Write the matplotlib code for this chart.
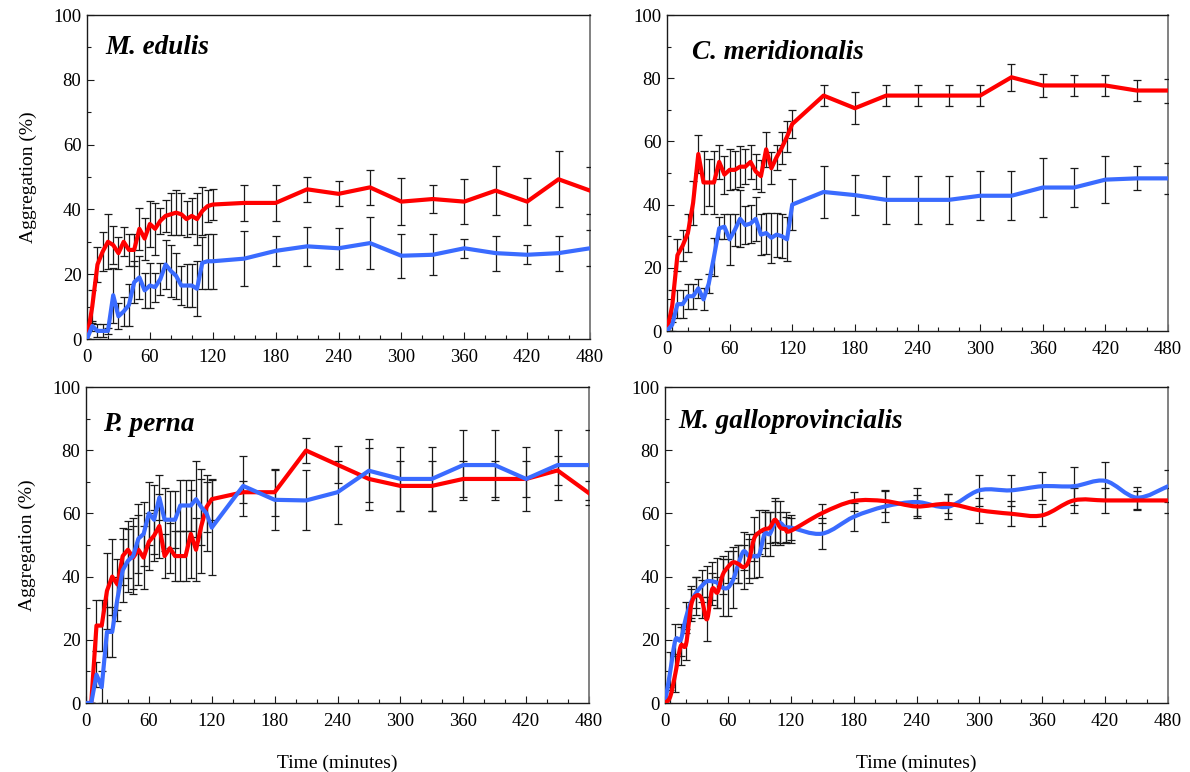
"""Four-panel aggregation time course (red vs blue treatment) per mussel species."""

import matplotlib

matplotlib.use("Agg")
import matplotlib.pyplot as plt  # noqa: E402
import numpy as np  # noqa: E402
from matplotlib.patches import PathPatch  # noqa: E402
from matplotlib.path import Path  # noqa: E402
from matplotlib.ticker import MultipleLocator  # noqa: E402

# --------------------------------------------------------------------------------------
# Data
# --------------------------------------------------------------------------------------
TIME = [0, 5, 10, 15, 20, 25, 30, 35, 40, 45, 50, 55, 60, 65, 70, 75, 80, 85, 90,
        95, 100, 105, 110, 115, 120, 150, 180, 210, 240, 270, 300, 330, 360, 390,
        420, 450, 480]

SPECIES = ["M. edulis", "C. meridionalis", "P. perna", "M. galloprovincialis"]

EDULIS_RED = [0, 10, 23, 27, 30, 29, 26.5, 30, 27.5, 27.5, 34, 31, 35.5, 34, 36.5,
              38, 38.5, 39, 38.5, 37, 38, 37, 39.5, 41, 41.5,
              42, 42, 46.2, 44.8, 46.8, 42.4, 43.2, 42.4, 45.8, 42.4, 49.3, 45.8]
EDULIS_RED_ERR = [0, 5, 5.5, 6, 8.5, 6, 5, 4.5, 5, 5, 6.5, 6.5, 7, 8, 4, 5, 6.5, 7,
                  6.5, 5.5, 5.5, 8, 7.5, 5, 4.8,
                  5.5, 5.5, 3.9, 3.9, 5.4, 7.3, 4.2, 7, 7.5, 7.3, 8.6, 7.2]
EDULIS_BLUE = [0, 4, 2.5, 2.5, 2.5, 13.5, 7, 8.5, 10.5, 17.5, 19, 15, 16.5, 16, 18.5,
               23, 21, 19.5, 16.5, 16.5, 16.5, 15.5, 23.5, 24, 24,
               24.8, 27.2, 28.6, 28, 29.6, 25.7, 26, 28, 26.5, 26, 26.5, 28]
EDULIS_BLUE_ERR = [0, 1.5, 2, 2, 1, 8.5, 4, 4.5, 6.5, 6.5, 6.5, 5.5, 7, 4.5, 5,
                   7.5, 8, 7, 6, 6.5, 6.5, 8.5, 8, 8.5, 8.5,
                   8.4, 4.6, 6.1, 6.4, 8, 6.8, 6.4, 2.9, 5.4, 2.9, 5.4, 5.6]

MERID_RED = [0, 8, 24, 27, 31, 40.5, 56, 47, 47, 47, 53.5, 49.5, 51, 51, 52, 52,
             53.5, 50.5, 49, 57.5, 51.5, 55, 58, 61.5, 65.5,
             74.5, 70.5, 74.5, 74.5, 74.5, 74.5, 80.3, 77.7, 77.7, 77.7, 76.1, 76.1]
MERID_RED_ERR = [0, 5, 5, 5, 6, 7, 6, 10, 7.5, 10, 5.5, 6, 6.5, 6, 6.5, 5.5, 5.5,
                 5.5, 5, 5.5, 5, 4, 5, 5, 4.5,
                 3.3, 5, 3.2, 3.2, 3.2, 3.2, 4.2, 3.7, 3.3, 3.3, 3.4, 3.8]
MERID_BLUE = [0, 2, 8.5, 8.5, 11, 11, 13.5, 10, 15, 23.5, 32.5, 33, 29, 32, 35.5,
              33.5, 34, 35.5, 30.5, 31, 29.5, 30.5, 30, 29, 40,
              44, 43, 41.5, 41.5, 41.5, 42.8, 42.8, 45.4, 45.4, 47.9, 48.3, 48.3]
MERID_BLUE_ERR = [0, 2, 4.5, 4.5, 4, 4, 3, 3.5, 3, 6, 3.5, 4, 8, 5, 9, 6, 6, 7,
                  6.5, 6.5, 8, 7, 7, 7, 8,
                  8.3, 6.3, 7.5, 7.5, 7.5, 7.7, 7.7, 9.4, 6.1, 7.5, 3.8, 4.8]

PERNA_RED = [0, 0, 24.5, 24.5, 35.5, 40, 37.5, 46.5, 48.5, 46, 48.5, 46, 51, 53, 56,
             46.5, 49, 46.5, 46.5, 46.5, 53.5, 48.5, 56, 62, 64.5,
             66.7, 66.7, 79.9, 75.4, 70.9, 68.7, 68.7, 70.9, 70.9, 70.9, 73.6, 66.4]
PERNA_RED_ERR = [0, 0, 8, 8, 12, 12, 8, 9, 9, 10, 11, 10, 9, 8, 10, 7, 8, 8, 8, 8,
                 14, 10, 15, 8, 6.5,
                 3.5, 7.5, 4, 5.8, 9.9, 8, 8, 5.8, 5.8, 5.8, 4.5, 3.8]
PERNA_BLUE = [0, 0, 9, 5, 22.5, 22.5, 33, 42, 45, 46.5, 52, 53.5, 60, 58, 65, 58,
              58, 58, 62.5, 62.5, 62.5, 64.5, 62, 60, 55.5,
              68.7, 64.3, 64.1, 66.7, 73.5, 70.9, 70.9, 75.3, 75.3, 70.9, 75.3, 75.3]
PERNA_BLUE_ERR = [0, 0, 4, 5, 8, 8, 7, 10, 10, 12, 11, 10, 10, 11, 7, 10, 9, 9, 8,
                  8, 8, 12, 12, 12, 15,
                  9.5, 9.5, 9.5, 10, 10, 10, 10, 11, 11, 10, 11, 11]

GALLO_RED = [0, 2, 9.5, 18, 18.5, 31, 34, 33, 26.5, 36, 35, 40.5, 43, 44.5, 44, 43,
             45, 52, 54, 55, 55.5, 58, 55.5, 55, 54.5,
             60.1, 63.9, 63.9, 62.2, 63, 61, 59.9, 59.4, 64.1, 64.1, 64.1, 64.1]
GALLO_RED_ERR = [0, 3, 6, 6, 5, 5, 6, 6, 7, 5, 5, 6, 5, 5, 6, 7, 7, 7, 7, 6, 5, 7,
                 5, 4, 4,
                 3, 3, 3.5, 3.5, 3, 4, 4, 3.5, 4, 4, 3, 4]
GALLO_BLUE = [0, 10, 20, 20, 27, 32, 35, 37, 38.5, 38.5, 38, 36.5, 36.5, 39, 44, 48,
              46.5, 46.5, 47, 53.5, 53.5, 57, 57, 55.5, 55.5,
              53.6, 58.9, 62.2, 63.6, 62.1, 67.3, 67.3, 68.6, 68.6, 70.3, 65, 68.6]
GALLO_BLUE_ERR = [0, 6, 5, 5, 5, 5, 5, 5, 5, 6, 8, 9, 9, 9, 6, 6, 7, 7, 7, 7, 7, 7,
                  7, 5, 4,
                  5, 4.5, 5, 4.5, 4, 5, 5, 4.5, 6, 6, 3.5, 5]

# --------------------------------------------------------------------------------------
# Style
# --------------------------------------------------------------------------------------
RED = "#FF0000"
BLUE = "#3A6BFF"
INK = "#1A1A1A"
FONT = ["Liberation Serif", "DejaVu Serif"]
LINE_W = 3.0

# Axes rectangles in pixels: left, top, right, bottom (figure 1190 x 772).
PANEL_PX = [
    (87, 15, 590, 339),
    (667, 15, 1168, 331),
    (86, 387, 589, 703),
    (665, 387, 1168, 703),
]
TITLE_POS = [(0.036, 0.90), (0.05, 0.88), (0.034, 0.88), (0.026, 0.89)]


def smooth_line(ax, x, y, color):
    """Draws an Excel-like smoothed line (Catmull-Rom as cubic Bezier)."""
    pts = np.column_stack([np.asarray(x, float), np.asarray(y, float)])
    n = len(pts)
    verts = [pts[0]]
    codes = [Path.MOVETO]
    for i in range(n - 1):
        p0 = pts[max(i - 1, 0)]
        p1 = pts[i]
        p2 = pts[i + 1]
        p3 = pts[min(i + 2, n - 1)]
        verts += [p1 + (p2 - p0) / 6.0, p2 - (p3 - p1) / 6.0, p2]
        codes += [Path.CURVE4] * 3
    patch = PathPatch(Path(verts, codes), facecolor="none", edgecolor=color,
                      linewidth=LINE_W, capstyle="round", joinstyle="round", zorder=4)
    ax.add_patch(patch)


def draw_panel(ax, title, series, smooth=False):
    for values, errors, color in series:
        ax.errorbar(TIME, values, yerr=errors, fmt="none", ecolor=INK,
                    elinewidth=0.9, capsize=3.2, capthick=0.9, zorder=3)
        if smooth:
            smooth_line(ax, TIME, values, color)
        else:
            ax.plot(TIME, values, color=color, linewidth=LINE_W,
                    solid_joinstyle="round", zorder=4)
    ax.set_xlim(0, 480)
    ax.set_ylim(0, 100)
    ax.xaxis.set_major_locator(MultipleLocator(60))
    ax.xaxis.set_minor_locator(MultipleLocator(20))
    ax.yaxis.set_major_locator(MultipleLocator(20))
    ax.yaxis.set_minor_locator(MultipleLocator(10))
    ax.tick_params(which="both", direction="in", top=False, right=False,
                   labelsize=13.5, width=0.8, color=INK)
    ax.tick_params(which="major", length=5)
    ax.tick_params(axis="x", which="major", pad=7)
    ax.tick_params(axis="y", which="major", pad=4)
    ax.tick_params(which="minor", length=3)
    for lab in ax.get_xticklabels() + ax.get_yticklabels():
        lab.set_family(FONT)
    for side in ("left", "bottom", "top"):
        ax.spines[side].set_color(INK)
        ax.spines[side].set_linewidth(1.0)
    ax.spines["right"].set_color("#777777")
    ax.spines["right"].set_linewidth(1.3)
    tx, ty = TITLE_POS[SPECIES.index(title)]
    ax.text(tx, ty, title, transform=ax.transAxes, fontsize=19.5, fontweight="bold",
            fontstyle="italic", family=FONT, ha="left", va="center", color="black")


def main():
    fig = plt.figure(figsize=(11.9, 7.72), dpi=100)
    data = [
        [(EDULIS_RED, EDULIS_RED_ERR, RED), (EDULIS_BLUE, EDULIS_BLUE_ERR, BLUE)],
        [(MERID_RED, MERID_RED_ERR, RED), (MERID_BLUE, MERID_BLUE_ERR, BLUE)],
        [(PERNA_RED, PERNA_RED_ERR, RED), (PERNA_BLUE, PERNA_BLUE_ERR, BLUE)],
        [(GALLO_BLUE, GALLO_BLUE_ERR, BLUE), (GALLO_RED, GALLO_RED_ERR, RED)],
    ]
    for i, (name, series) in enumerate(zip(SPECIES, data)):
        left, top, right, bottom = PANEL_PX[i]
        ax = fig.add_axes([left / 1190, (772 - bottom) / 772,
                           (right - left) / 1190, (bottom - top) / 772])
        draw_panel(ax, name, series, smooth=(i == 3))
        if i % 2 == 0:
            ax.set_ylabel("Aggregation (%)", fontsize=14, family=FONT, labelpad=12)
        if i >= 2:
            ax.set_xlabel("Time (minutes)", fontsize=14, family=FONT, labelpad=18)
    fig.savefig("out.png", dpi=100)
    plt.close(fig)


if __name__ == "__main__":
    main()
